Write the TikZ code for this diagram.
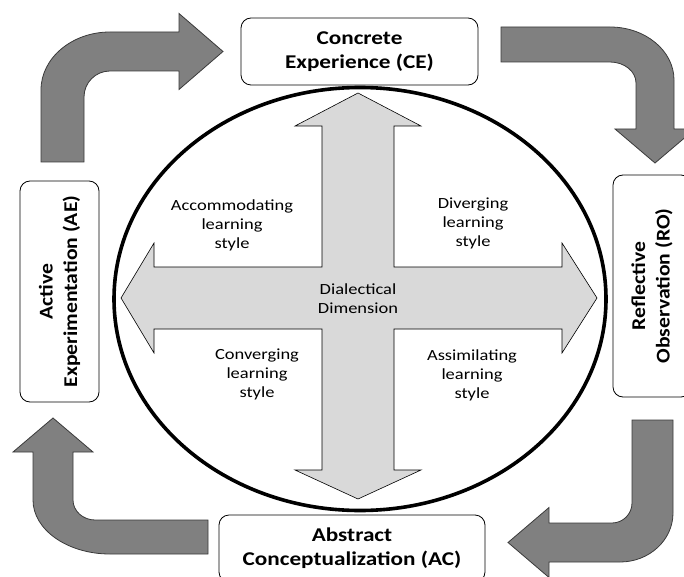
\documentclass[tikz,border=0pt]{standalone}
\usepackage{fontspec}
\setmainfont{Carlito}
\newfontfamily\widefont{Carlito}[FakeStretch=1.19]
\newfontfamily\tallfont{Carlito}[FakeStretch=1.11]
\begin{document}
\begin{tikzpicture}[x=1pt,y=-1pt,
  stagebox/.style={draw=black, line width=0.8pt, rounded corners=10pt, fill=white,
    align=center, inner sep=0pt},
  stage/.style={stagebox, font=\widefont\bfseries\fontsize{19.5}{24}\selectfont},
  sidestage/.style={stagebox, rotate=90, font=\tallfont\bfseries\fontsize{19.5}{24.5}\selectfont},
  flow/.style={fill=flowgray, draw=flowedge, line width=0.8pt, line join=miter},
  cross/.style={fill=crossgray, draw=black, line width=0.6pt},
  quad/.style={align=center, inner sep=0pt, font=\widefont\fontsize{15.5}{19}\selectfont}]
\definecolor{flowgray}{HTML}{808080}
\definecolor{flowedge}{HTML}{3A3A3A}
\definecolor{crossgray}{HTML}{D9D9D9}
\useasboundingbox (0,0) rectangle (684,577);
\clip (0,0) rectangle (684,577);

% dialectical ellipse
\draw[line width=3.6pt, fill=white] (360,299) ellipse [x radius=246, y radius=211.5];

% four-way arrow
\draw[cross] (322,126) -- (295,126) -- (358,93) -- (421,126) -- (394,126) -- (394,267)
  -- (562,267) -- (562,243) -- (597,298) -- (562,353) -- (562,329) -- (394,329)
  -- (394,470) -- (421,470) -- (358,499) -- (295,470) -- (322,470) -- (322,329)
  -- (154,329) -- (154,353) -- (121,298) -- (154,243) -- (154,267) -- (322,267) -- cycle;

% quadrant labels
\node[quad] (acc) at (232,225) {Accommodating\\learning\\style};
\node[quad] (div) at (473,223) {Diverging\\learning\\style};
\node[quad] (con) at (257,374) {Converging\\learning\\style};
\node[quad] (ass) at (472,375) {Assimilating\\learning\\style};
\node[quad] (dia) at (358,299) {Dialectical\\Dimension};

% the four stages
\node[stage, minimum width=237pt, minimum height=67pt] (ce) at (359.5,51.5) {Concrete\\Experience (CE)};
\node[sidestage, minimum width=222pt, minimum height=78pt] (ro) at (652,286) {Reflective\\Observation (RO)};
\node[stage, minimum width=266pt, minimum height=67pt] (ac) at (352,548.5) {Abstract\\Conceptualization (AC)};
\node[sidestage, minimum width=221pt, minimum height=79pt] (ae) at (59.5,291.5) {Active\\Experimentation (AE)};

% bent block arrows between the stages
% AE -> CE
\draw[flow] (41,162) -- (41,90) .. controls (41,58) and (72,32) .. (110,32) -- (179,32)
  -- (179,13.5) -- (223,51.5) -- (179,89.5) -- (179,71) -- (110,71)
  .. controls (95.6,71) and (84,82.6) .. (84,97) -- (84,162) -- cycle;
% CE -> RO
\draw[flow] (501,27) -- (610,27) .. controls (645.3,27) and (674,50.7) .. (674,80)
  -- (674,129) -- (695,129) -- (655,163) -- (615,129) -- (636,129) -- (636,83)
  .. controls (636,71.4) and (624.4,62) .. (610,62) -- (501,62) -- cycle;
% RO -> AC
\draw[flow] (632,420) -- (673,420) -- (673,513) .. controls (673,540) and (649.3,562) .. (620,562)
  -- (549,562) -- (549,577.5) -- (508,542.5) -- (549,507.5) -- (549,523) -- (612,523)
  .. controls (623,523) and (632,514) .. (632,503) -- cycle;
% AC -> AE
\draw[flow] (208,520) -- (95,520) .. controls (83,520) and (73,511) .. (73,500) -- (73,452)
  -- (93,452) -- (53,418) -- (13,452) -- (33,452) -- (33,500)
  .. controls (33,529.8) and (67.5,554) .. (110,554) -- (208,554) -- cycle;
\end{tikzpicture}
\end{document}
